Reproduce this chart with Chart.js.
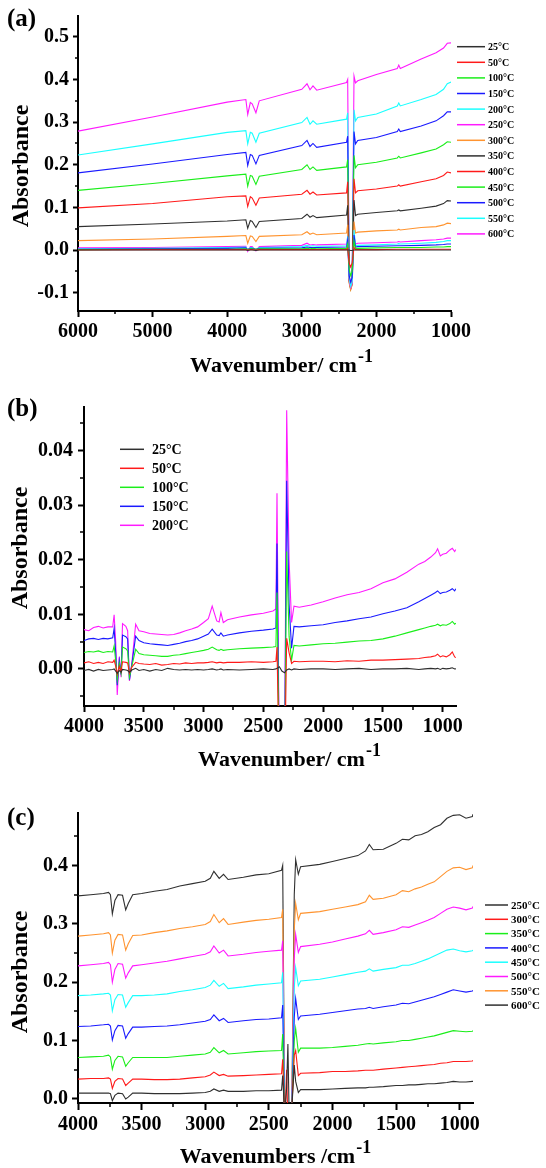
<!DOCTYPE html>
<html>
<head>
<meta charset="utf-8">
<script src="https://cdn.jsdelivr.net/npm/chart.js@4.4.1/dist/chart.umd.min.js"></script>
<style>
  body { margin: 0; background: #fff; }
  canvas { position: absolute; left: 0; }
</style>
</head>
<body>
<canvas id="chartA" width="546" height="390" style="top:0px"></canvas>
<canvas id="chartB" width="546" height="390" style="top:390px"></canvas>
<canvas id="chartC" width="546" height="388" style="top:780px"></canvas>
<script>
// ---------- (a) 25-600 °C, full range ----------
const tempsA = [25, 50, 100, 150, 200, 250, 300, 350, 400, 450, 500, 550, 600];
const wnA = [6000, 5000, 4000, 3750, 3725, 3690, 3665, 3615, 3570, 3000, 2930, 2890, 2850, 2800, 2400, 2385, 2365, 2345, 2325, 2300, 2280, 2250, 2000, 1720, 1700, 1680, 1400, 1200, 1100, 1050, 1000];
const a25  = [0.000, 0.000, 0.000, 0.000, -0.001, 0.000, 0.000, -0.001, 0.000, 0.000, 0.000, 0.000, 0.000, 0.000, 0.000, 0.000, 0.000, -0.001, -0.001, 0.000, 0.000, 0.000, 0.000, 0.000, 0.000, 0.000, 0.000, 0.000, 0.000, 0.000, 0.000];
const a50  = [0.000, 0.001, 0.001, 0.001, 0.000, 0.001, 0.001, 0.000, 0.001, 0.001, 0.001, 0.001, 0.001, 0.001, 0.001, 0.004, -0.030, -0.040, -0.030, 0.006, 0.001, 0.001, 0.001, 0.002, 0.002, 0.002, 0.002, 0.002, 0.002, 0.002, 0.002];
const a100 = [0.001, 0.002, 0.002, 0.003, 0.001, 0.003, 0.003, 0.002, 0.003, 0.003, 0.004, 0.003, 0.004, 0.003, 0.004, 0.014, -0.045, -0.060, -0.050, 0.021, 0.004, 0.004, 0.005, 0.006, 0.006, 0.006, 0.006, 0.007, 0.007, 0.008, 0.008];
const a150 = [0.002, 0.003, 0.004, 0.005, 0.001, 0.004, 0.004, 0.002, 0.004, 0.005, 0.007, 0.006, 0.006, 0.006, 0.007, 0.023, -0.060, -0.075, -0.065, 0.035, 0.007, 0.008, 0.009, 0.010, 0.010, 0.010, 0.011, 0.012, 0.013, 0.014, 0.014];
const a200 = [0.003, 0.004, 0.006, 0.007, 0.000, 0.006, 0.006, 0.001, 0.006, 0.008, 0.011, 0.009, 0.010, 0.009, 0.010, 0.032, -0.066, -0.085, -0.075, 0.047, 0.010, 0.011, 0.012, 0.014, 0.015, 0.014, 0.016, 0.018, 0.020, 0.022, 0.022];
const a250 = [0.005, 0.006, 0.008, 0.009, -0.003, 0.008, 0.008, -0.002, 0.008, 0.011, 0.016, 0.012, 0.013, 0.012, 0.014, 0.030, -0.070, -0.088, -0.078, 0.035, 0.014, 0.016, 0.017, 0.019, 0.020, 0.019, 0.022, 0.024, 0.026, 0.028, 0.028];
const a300 = [0.022, 0.026, 0.032, 0.034, 0.016, 0.033, 0.032, 0.020, 0.032, 0.036, 0.043, 0.037, 0.040, 0.036, 0.040, 0.059, -0.078, -0.094, -0.082, 0.067, 0.040, 0.042, 0.045, 0.047, 0.049, 0.047, 0.053, 0.055, 0.059, 0.063, 0.062];
const a350 = [0.055, 0.061, 0.068, 0.071, 0.051, 0.069, 0.067, 0.053, 0.067, 0.074, 0.084, 0.077, 0.081, 0.076, 0.082, 0.105, -0.075, -0.092, -0.080, 0.117, 0.081, 0.084, 0.088, 0.092, 0.094, 0.092, 0.098, 0.103, 0.109, 0.116, 0.115];
const a400 = [0.099, 0.109, 0.125, 0.127, 0.102, 0.125, 0.122, 0.105, 0.122, 0.131, 0.140, 0.131, 0.136, 0.129, 0.134, 0.160, -0.072, -0.088, -0.078, 0.167, 0.134, 0.139, 0.143, 0.150, 0.153, 0.150, 0.160, 0.167, 0.175, 0.183, 0.181];
const a450 = [0.140, 0.156, 0.174, 0.178, 0.150, 0.175, 0.173, 0.154, 0.173, 0.189, 0.200, 0.189, 0.195, 0.187, 0.195, 0.212, -0.068, -0.090, -0.072, 0.222, 0.193, 0.200, 0.206, 0.216, 0.220, 0.216, 0.228, 0.237, 0.247, 0.254, 0.253];
const a500 = [0.181, 0.202, 0.224, 0.229, 0.198, 0.224, 0.222, 0.202, 0.222, 0.245, 0.257, 0.243, 0.250, 0.241, 0.253, 0.267, -0.070, -0.086, -0.075, 0.278, 0.249, 0.257, 0.264, 0.278, 0.284, 0.278, 0.291, 0.303, 0.315, 0.324, 0.324];
const a550 = [0.223, 0.249, 0.276, 0.280, 0.249, 0.276, 0.274, 0.253, 0.274, 0.299, 0.311, 0.295, 0.303, 0.295, 0.307, 0.322, -0.065, -0.088, -0.072, 0.329, 0.303, 0.311, 0.319, 0.338, 0.345, 0.338, 0.353, 0.365, 0.377, 0.390, 0.394];
const a600 = [0.279, 0.312, 0.347, 0.353, 0.318, 0.346, 0.343, 0.322, 0.350, 0.377, 0.390, 0.376, 0.385, 0.375, 0.393, 0.400, -0.060, -0.085, -0.070, 0.408, 0.392, 0.397, 0.412, 0.426, 0.434, 0.426, 0.448, 0.463, 0.474, 0.485, 0.486];
const xTicksA = [6000, 5000, 4000, 3000, 2000, 1000];
const xMinorA = [5500, 4500, 3500, 2500, 1500];
const yTicksA = [-0.1, 0.0, 0.1, 0.2, 0.3, 0.4, 0.5];
const yMinorA = [-0.05, 0.05, 0.15, 0.25, 0.35, 0.45];

// ---------- (b) 25-200 °C ----------
const tempsB = [25, 50, 100, 150, 200];
const wnB = [4000, 3960, 3920, 3880, 3840, 3800, 3760, 3748, 3735, 3722,
  3705, 3690, 3678, 3650, 3635, 3620, 3600, 3568, 3540, 3500,
  3450, 3400, 3350, 3300, 3250, 3200, 3150, 3100, 3050, 3000,
  2960, 2928, 2890, 2870, 2855, 2835, 2800, 2700, 2600, 2500,
  2420, 2395, 2386, 2366, 2345, 2323, 2305, 2285, 2264, 2244,
  2200, 2100, 2000, 1900, 1800, 1700, 1600, 1500, 1400, 1300,
  1200, 1150, 1100, 1060, 1043, 1020, 1000, 970, 940, 920, 900, 890];
const b25 = [-.0003, -.0001, -.0004, -.0001, -.0003, -.0002, -.0001, .0000, -.0004, -.0008,
  -.0003, -.0006, -.0001, -.0002, -.0003, -.0006, -.0002, .0001, -.0003, -.0001,
  -.0004, -.0001, -.0003, .0001, -.0001, -.0002, -.0001, -.0002, -.0001, -.0002,
  -.0001, .0000, -.0002, -.0001, .0000, -.0002, -.0001, -.0002, -.0001, .0000,
  -.0001, .0000, .0001, .0004, -.0004, -.0007, -.0002, .0000, -.0002, .0000,
  -.0001, .0000, .0000, -.0001, .0000, .0001, -.0001, .0000, .0000, .0001,
  -.0001, .0000, .0001, .0000, .0001, -.0001, .0001, .0000, .0001, .0002, .0000, .0000];
const b50 = [.0011, .0013, .0010, .0012, .0010, .0013, .0012, .0016, .0005, -.0010,
  .0005, -.0005, .0013, .0012, .0011, -.0008, .0003, .0012, .0010, .0009,
  .0008, .0010, .0007, .0008, .0010, .0009, .0011, .0010, .0011, .0011,
  .0012, .0013, .0011, .0012, .0012, .0011, .0012, .0012, .0013, .0012,
  .0013, .0014, .0040, -.0200, -.0100, -.0200, .0056, .0030, .0010, .0014,
  .0013, .0014, .0014, .0013, .0015, .0014, .0016, .0016, .0017, .0018,
  .0019, .0021, .0022, .0024, .0027, .0022, .0024, .0022, .0026, .0031, .0022, .0021];
const b100 = [.0030, .0032, .0031, .0033, .0030, .0032, .0031, .0042, .0015, -.0020,
  .0010, -.0008, .0040, .0037, .0033, -.0015, .0005, .0036, .0028, .0026,
  .0025, .0024, .0023, .0023, .0025, .0026, .0028, .0030, .0032, .0034,
  .0036, .0040, .0035, .0034, .0036, .0034, .0035, .0037, .0038, .0039,
  .0040, .0041, .0140, -.0200, -.0100, -.0200, .0215, .0060, .0016, .0043,
  .0042, .0044, .0046, .0047, .0049, .0051, .0052, .0055, .0060, .0066,
  .0072, .0075, .0078, .0080, .0082, .0079, .0081, .0080, .0083, .0087, .0082, .0084];
const b150 = [.0052, .0055, .0056, .0054, .0056, .0055, .0057, .0074, .0030, -.0030,
  .0015, -.0010, .0062, .0059, .0055, -.0020, .0008, .0060, .0052, .0048,
  .0046, .0045, .0044, .0043, .0045, .0047, .0050, .0052, .0055, .0060,
  .0064, .0073, .0062, .0061, .0066, .0060, .0062, .0066, .0069, .0071,
  .0073, .0075, .0230, -.0200, -.0100, -.0200, .0345, .0120, .0038, .0078,
  .0077, .0079, .0081, .0085, .0088, .0092, .0095, .0101, .0106, .0112,
  .0123, .0129, .0135, .0140, .0143, .0138, .0140, .0141, .0144, .0147, .0143, .0147];
const b200 = [.0072, .0070, .0076, .0078, .0075, .0077, .0077, .0099, .0050, -.0048,
  .0022, -.0015, .0083, .0078, .0070, -.0022, .0010, .0082, .0070, .0068,
  .0065, .0064, .0063, .0062, .0063, .0066, .0070, .0073, .0077, .0085,
  .0092, .0115, .0088, .0086, .0103, .0085, .0090, .0095, .0099, .0102,
  .0106, .0110, .0322, -.0200, -.0100, -.0200, .0474, .0200, .0085, .0115,
  .0113, .0117, .0123, .0130, .0136, .0140, .0147, .0158, .0165, .0177,
  .0192, .0197, .0205, .0213, .0220, .0207, .0210, .0212, .0218, .0221, .0215, .0219];
const xTicksB = [4000, 3500, 3000, 2500, 2000, 1500, 1000];
const xMinorB = [3750, 3250, 2750, 2250, 1750, 1250];
const yTicksB = [0.00, 0.01, 0.02, 0.03, 0.04];
const yMinorB = [-0.005, 0.005, 0.015, 0.025, 0.035, 0.045];

// ---------- (c) 250-600 °C ----------
const tempsC = [250, 300, 350, 400, 450, 500, 550, 600];
const wnC = [4000, 3900, 3800, 3760, 3745, 3730, 3710, 3685, 3650, 3625,
  3605, 3570, 3500, 3400, 3300, 3200, 3100, 3000, 2960, 2932,
  2890, 2856, 2820, 2700, 2600, 2500, 2400, 2391, 2375, 2360,
  2350, 2340, 2320, 2300, 2289, 2268, 2250, 2100, 2000, 1900,
  1800, 1740, 1710, 1680, 1600, 1500, 1450, 1400, 1350, 1300,
  1250, 1200, 1150, 1100, 1050, 1000, 950, 900, 895];
const c250 = [.010, .010, .010, .010, .009, -.003, .006, .010, .009, .000,
  .003, .010, .010, .009, .009, .009, .010, .011, .013, .017,
  .013, .015, .013, .013, .014, .014, .015, .040, -.030, .020,
  .094, -.030, -.020, .058, .030, .011, .016, .016, .017, .018,
  .019, .019, .020, .020, .021, .023, .023, .024, .024, .025,
  .026, .026, .027, .028, .030, .029, .029, .030, .030];
const c300 = [.034, .035, .035, .036, .034, .018, .030, .035, .034, .023,
  .027, .034, .034, .033, .033, .034, .036, .038, .041, .046,
  .040, .042, .039, .040, .041, .042, .043, .068, -.040, .050,
  -.040, -.040, -.020, .075, .083, .040, .044, .045, .047, .047,
  .048, .049, .049, .049, .051, .053, .054, .055, .056, .057,
  .058, .059, .061, .062, .064, .064, .064, .065, .066];
const c350 = [.071, .072, .073, .075, .072, .051, .066, .073, .072, .056,
  .062, .071, .071, .071, .071, .073, .075, .077, .080, .088,
  .079, .083, .077, .079, .081, .082, .083, .111, -.050, -.040,
  -.050, -.050, -.030, .100, .121, .080, .087, .087, .088, .090,
  .092, .094, .095, .094, .096, .098, .100, .100, .102, .104,
  .106, .108, .111, .114, .117, .116, .115, .116, .117];
const c400 = [.124, .125, .127, .128, .125, .101, .117, .126, .125, .104,
  .112, .123, .123, .124, .125, .127, .130, .133, .136, .144,
  .134, .138, .131, .134, .136, .137, .139, .161, -.050, -.050,
  -.050, -.050, -.030, .140, .172, .136, .142, .145, .148, .151,
  .154, .155, .157, .155, .158, .161, .164, .163, .166, .169,
  .172, .175, .179, .183, .187, .185, .183, .185, .186];
const c450 = [.177, .178, .180, .181, .178, .151, .170, .179, .178, .157,
  .165, .177, .177, .178, .180, .184, .187, .191, .195, .203,
  .193, .198, .189, .192, .195, .197, .199, .217, -.050, -.050,
  -.050, -.050, -.030, .190, .225, .194, .202, .205, .209, .213,
  .217, .219, .223, .219, .222, .225, .229, .229, .232, .236,
  .240, .245, .250, .255, .257, .254, .252, .254, .255];
const c500 = [.228, .230, .232, .234, .230, .200, .222, .232, .231, .207,
  .216, .228, .230, .233, .236, .240, .244, .248, .252, .262,
  .250, .255, .245, .248, .251, .253, .255, .271, -.050, -.050,
  -.050, -.050, -.030, .240, .282, .251, .261, .265, .269, .274,
  .279, .283, .289, .282, .285, .290, .295, .294, .298, .302,
  .306, .311, .318, .325, .329, .327, .324, .327, .330];
const c550 = [.279, .281, .283, .285, .281, .250, .272, .282, .281, .255,
  .266, .280, .281, .285, .288, .292, .295, .299, .304, .316,
  .302, .309, .299, .303, .306, .308, .311, .325, -.050, -.050,
  -.050, -.050, -.030, .290, .335, .307, .318, .321, .325, .329,
  .333, .338, .349, .342, .344, .350, .357, .355, .360, .363,
  .368, .372, .381, .390, .396, .397, .393, .396, .400];
const c600 = [.348, .350, .352, .354, .350, .317, .340, .350, .349, .324,
  .335, .350, .352, .356, .359, .365, .369, .373, .378, .390,
  .378, .385, .376, .380, .384, .386, .392, .400, -.050, -.050,
  -.050, -.050, -.030, .350, .410, .385, .398, .402, .407, .412,
  .417, .425, .436, .427, .428, .438, .445, .444, .451, .453,
  .458, .465, .470, .481, .486, .487, .481, .484, .488];
const xTicksC = [4000, 3500, 3000, 2500, 2000, 1500, 1000];
const xMinorC = [3750, 3250, 2750, 2250, 1750, 1250];
const yTicksC = [0.0, 0.1, 0.2, 0.3, 0.4];
const yMinorC = [0.05, 0.15, 0.25, 0.35, 0.45];

const serif = '"Liberation Serif", "Times New Roman", serif';
Chart.defaults.font.family = serif;
Chart.defaults.font.weight = 'bold';
Chart.defaults.color = '#000';

const col = {
  black: '#303030', red: '#ff1a1a', green: '#1aee1a', blue: '#1a1aff',
  cyan: '#1affff', magenta: '#ff1aff', orange: '#ff9430'
};

function series(wn, rows, temps, colors) {
  return rows.map((vals, i) => ({
    label: temps[i] + '°C',
    data: wn.map((x, j) => ({ x: x, y: vals[j] })),
    borderColor: colors[i],
    borderWidth: 1.1,
    pointRadius: 0,
    tension: 0,
    fill: false
  }));
}

// letter, axis titles, minor ticks and the legend
const panelText = {
  id: 'panelText',
  afterDraw(chart, args, o) {
    const ctx = chart.ctx;
    const xs = chart.scales.x, ys = chart.scales.y;
    ctx.save();
    ctx.strokeStyle = '#000';
    ctx.lineWidth = 1.5;
    ctx.beginPath();
    o.minorX.forEach(v => {
      const px = Math.round(xs.getPixelForValue(v));
      ctx.moveTo(px, xs.top);
      ctx.lineTo(px, xs.top + o.minorLen);
    });
    o.minorY.forEach(v => {
      const py = Math.round(ys.getPixelForValue(v));
      ctx.moveTo(ys.right, py);
      ctx.lineTo(ys.right - o.minorLen, py);
    });
    ctx.stroke();

    ctx.fillStyle = '#000';
    ctx.textAlign = 'left';
    ctx.textBaseline = 'middle';
    ctx.font = 'bold 25px ' + serif;
    ctx.fillText(o.letter, o.letterX, o.letterY);

    ctx.save();
    ctx.translate(o.yTitleX, o.yTitleY);
    ctx.rotate(-Math.PI / 2);
    ctx.textAlign = 'center';
    ctx.font = 'bold 24px ' + serif;
    ctx.fillText('Absorbance', 0, 0);
    ctx.restore();

    // axis title with a raised "-1"
    ctx.textBaseline = 'alphabetic';
    ctx.font = 'bold 22px ' + serif;
    const w1 = ctx.measureText(o.xTitle).width;
    ctx.font = 'bold 18px ' + serif;
    const w2 = ctx.measureText('-1').width;
    const x0 = o.xTitleX - (w1 + w2) / 2;
    ctx.font = 'bold 22px ' + serif;
    ctx.fillText(o.xTitle, x0, o.xTitleY);
    ctx.font = 'bold 18px ' + serif;
    ctx.fillText('-1', x0 + w1 + 1, o.xTitleY - 10);

    const lg = o.legend;
    ctx.textBaseline = 'middle';
    ctx.font = 'bold ' + lg.size + 'px ' + serif;
    chart.data.datasets.forEach((d, i) => {
      const y = lg.y0 + i * lg.dy;
      ctx.strokeStyle = d.borderColor;
      ctx.lineWidth = 1.5;
      ctx.beginPath();
      ctx.moveTo(lg.x0, y);
      ctx.lineTo(lg.x1, y);
      ctx.stroke();
      ctx.fillText(d.label, lg.tx, y + 1);
    });
    ctx.restore();
  }
};

function makeChart(id, datasets, s) {
  const tickFont = { family: serif, size: s.font, weight: 'bold' };
  return new Chart(document.getElementById(id), {
    type: 'line',
    data: { datasets: datasets },
    plugins: [panelText],
    options: {
      responsive: false,
      animation: false,
      devicePixelRatio: 1,
      layout: { padding: { left: 0, top: s.top, right: s.right, bottom: 0 } },
      plugins: {
        legend: { display: false },
        tooltip: { enabled: false },
        panelText: s.text
      },
      scales: {
        x: {
          type: 'linear', reverse: true, min: s.xMin, max: s.xMax,
          afterBuildTicks: sc => { sc.ticks = s.xTicks.map(v => ({ value: v })); },
          afterFit: sc => { sc.height = s.xHeight; },
          ticks: {
            font: tickFont, color: '#000',
            padding: s.xPad, maxRotation: 0, autoSkip: false, callback: v => String(v)
          },
          grid: { drawOnChartArea: false, tickLength: s.xTick, tickWidth: 2, tickColor: '#000' },
          border: { color: '#000', width: 2 }
        },
        y: {
          min: s.yMin, max: s.yMax,
          afterBuildTicks: sc => { sc.ticks = s.yTicks.map(v => ({ value: v })); },
          afterFit: sc => { sc.width = s.yWidth; },
          ticks: {
            font: tickFont, color: '#000',
            padding: s.yPad, callback: v => v.toFixed(s.digits)
          },
          grid: { drawOnChartArea: false, tickLength: s.yTick, tickWidth: 2, tickColor: '#000' },
          border: { color: '#000', width: 2 }
        }
      }
    }
  });
}

const colorsA = [col.black, col.red, col.green, col.blue, col.cyan, col.magenta, col.orange,
  col.black, col.red, col.green, col.blue, col.cyan, col.magenta];
makeChart('chartA',
  series(wnA, [a25, a50, a100, a150, a200, a250, a300, a350, a400, a450, a500, a550, a600], tempsA, colorsA), {
    top: 13, right: 95, xHeight: 79, yWidth: 78,
    xMin: 1000, xMax: 6000, yMin: -0.143, yMax: 0.549,
    xTicks: xTicksA, yTicks: yTicksA, digits: 1, font: 20,
    xPad: 3, yPad: 4, xTick: 6, yTick: 5,
    text: {
      minorX: xMinorA, minorY: yMinorA, minorLen: 3,
      letter: '(a)', letterX: 7, letterY: 20,
      yTitleX: 22, yTitleY: 166,
      xTitle: 'Wavenumber/ cm', xTitleX: 281, xTitleY: 372,
      legend: { x0: 457, x1: 485, tx: 488, y0: 46.7, dy: 15.6, size: 10 }
    }
  });

makeChart('chartB',
  series(wnB, [b25, b50, b100, b150, b200], tempsB, [col.black, col.red, col.green, col.blue, col.magenta]), {
    top: 17, right: 90, xHeight: 74, yWidth: 84,
    xMin: 889, xMax: 4000, yMin: -0.0068, yMax: 0.048,
    xTicks: xTicksB, yTicks: yTicksB, digits: 2, font: 20,
    xPad: 3, yPad: 5, xTick: 6, yTick: 6,
    text: {
      minorX: xMinorB, minorY: yMinorB, minorLen: 4,
      letter: '(b)', letterX: 7, letterY: 20,
      yTitleX: 21, yTitleY: 158,
      xTitle: 'Wavenumber/ cm', xTitleX: 289, xTitleY: 376,
      legend: { x0: 120, x1: 144, tx: 152, y0: 59.3, dy: 19, size: 14 }
    }
  });

const colorsC = [col.black, col.red, col.green, col.blue, col.cyan, col.magenta, col.orange, col.black];
makeChart('chartC',
  series(wnC, [c250, c300, c350, c400, c450, c500, c550, c600], tempsC, colorsC), {
    top: 33, right: 73, xHeight: 65, yWidth: 78,
    xMin: 895, xMax: 4000, yMin: -0.007, yMax: 0.49,
    xTicks: xTicksC, yTicks: yTicksC, digits: 1, font: 20,
    xPad: 3, yPad: 4, xTick: 7, yTick: 6,
    text: {
      minorX: xMinorC, minorY: yMinorC, minorLen: 4,
      letter: '(c)', letterX: 7, letterY: 39,
      yTitleX: 21, yTitleY: 192,
      xTitle: 'Wavenumbers /cm', xTitleX: 275, xTitleY: 383,
      legend: { x0: 485, x1: 508, tx: 511, y0: 125, dy: 14.3, size: 11 }
    }
  });
</script>
</body>
</html>
